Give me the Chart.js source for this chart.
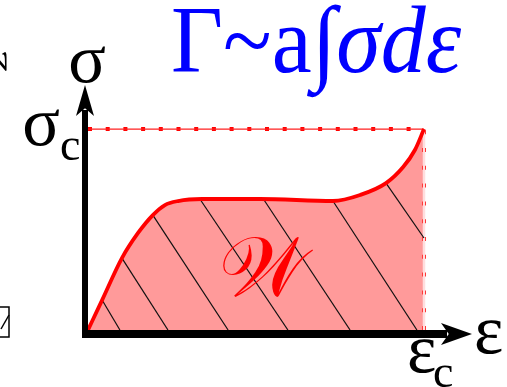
<!DOCTYPE html>
<html>
<head>
<meta charset="utf-8">
<script src="https://cdn.jsdelivr.net/npm/chart.js@4"></script>
<style>
  html, body { margin: 0; padding: 0; background: #fff; }
  canvas { display: block; }
</style>
</head>
<body>
<canvas id="graph" width="507" height="387"></canvas>
<script>
// strain (as fraction of eps_c) and stress (as fraction of sigma_c) along the curve
const strain = [0, 0.042, 0.101, 0.149, 0.193, 0.229, 0.268, 0.339, 0.512, 0.729, 0.810, 0.887, 0.938, 0.973, 1.0];
const stress = [0, 0.149, 0.358, 0.483, 0.572, 0.622, 0.642, 0.652, 0.652, 0.642, 0.672, 0.731, 0.811, 0.896, 1.0];

// hatch lines under the curve
const hatchStartX = [0.042, 0.101, 0.193, 0.333, 0.524, 0.729, 0.887];
const hatchStartY = [0.149, 0.358, 0.572, 0.652, 0.647, 0.642, 0.731];
const hatchEndX = [0.095, 0.238, 0.417, 0.595, 0.780, 0.979, 1.0];
const hatchEndY = [0, 0, 0, 0, 0, 0, 0.458];

// critical point
const critStrain = 1.0;
const critStress = 1.0;

// axis labels
const yLabel = 'σ';
const xLabel = 'ε';
const yTick = ['σ', 'c'];
const xTick = ['ε', 'c'];
const areaLabel = '𝒲';
const titleParts = [
  { text: 'Γ~a', italic: false },
  { text: '∫', italic: true },
  { text: 'σdε', italic: true }
];

const datasets = [];

datasets.push({
  data: strain.map((x, i) => ({ x: x, y: stress[i] })),
  showLine: true,
  borderColor: '#ff0000',
  borderWidth: 3.8,
  backgroundColor: '#ff9a9a',
  fill: 'origin',
  pointRadius: 0,
  cubicInterpolationMode: 'monotone'
});

hatchStartX.forEach((x, i) => {
  datasets.push({
    data: [{ x: x, y: hatchStartY[i] }, { x: hatchEndX[i], y: hatchEndY[i] }],
    showLine: true,
    borderColor: '#111',
    borderWidth: 1.2,
    pointRadius: 0,
    fill: false
  });
});

// dotted guides at sigma_c and eps_c
datasets.push({
  data: [{ x: 0, y: critStress }, { x: critStrain, y: critStress }],
  showLine: true, borderColor: '#ff2020', borderWidth: 1.2, pointRadius: 0, fill: false
});
datasets.push({
  data: [{ x: 0, y: critStress }, { x: critStrain, y: critStress }],
  showLine: true, borderColor: '#ff0000', borderWidth: 4, borderDash: [4, 13.7],
  borderCapStyle: 'butt', pointRadius: 0, fill: false
});
datasets.push({
  data: [{ x: critStrain, y: 0 }, { x: critStrain, y: critStress }],
  showLine: true, borderColor: '#ffdede', borderWidth: 2.5, pointRadius: 0, fill: false
});
datasets.push({
  data: [{ x: critStrain, y: 0 }, { x: critStrain, y: critStress }],
  showLine: true, borderColor: '#ff0000', borderWidth: 4, borderDash: [4, 13.8],
  borderCapStyle: 'butt', pointRadius: 0, fill: false
});

function arrowHead(ctx, tipX, tipY, dirX, dirY, len, half) {
  const nx = -dirY, ny = dirX;
  const bx = tipX - dirX * len, by = tipY - dirY * len;
  ctx.beginPath();
  ctx.moveTo(tipX, tipY);
  ctx.lineTo(bx + nx * half, by + ny * half);
  ctx.lineTo(tipX - dirX * len * 0.75, tipY - dirY * len * 0.75);
  ctx.lineTo(bx - nx * half, by - ny * half);
  ctx.closePath();
  ctx.fill();
}

const decorations = {
  id: 'decorations',
  afterDraw(chart) {
    const ctx = chart.ctx;
    const xs = chart.scales.x, ys = chart.scales.y;
    const area = chart.chartArea;
    const x0 = xs.getPixelForValue(0), y0 = ys.getPixelForValue(0);
    const xc = xs.getPixelForValue(critStrain), yc = ys.getPixelForValue(critStress);

    ctx.save();
    ctx.fillStyle = '#000';
    // axes
    ctx.fillRect(x0 - 6, area.top + 25, 6, y0 + 8 - area.top - 25);
    ctx.fillRect(x0 - 6, y0, area.right - 25 - x0 + 6, 8);
    arrowHead(ctx, x0 - 3, area.top, 0, -1, 31, 9);
    arrowHead(ctx, area.right, y0 + 4, 1, 0, 31, 11);

    // axis labels
    ctx.font = '70px "Liberation Serif"';
    ctx.textBaseline = 'alphabetic';
    ctx.textAlign = 'center';
    ctx.fillText(yLabel, x0 - 1, area.top - 3);
    ctx.textAlign = 'left';
    ctx.fillText(xLabel, area.right + 2, y0 + 23);

    ctx.textAlign = 'right';
    ctx.fillText(yTick[0], x0 - 28, yc + 16);
    ctx.textAlign = 'left';
    ctx.fillText(xTick[0], xc - 17, y0 + 42);
    ctx.font = '46px "Liberation Serif"';
    ctx.fillText(yTick[1], x0 - 28, yc + 31);
    ctx.fillText(xTick[1], xc + 9, y0 + 57);

    // area label
    ctx.fillStyle = '#ff0000';
    ctx.font = '84px "DejaVu Serif"';
    ctx.textAlign = 'center';
    ctx.fillText(areaLabel, xs.getPixelForValue(0.52), ys.getPixelForValue(0.17));

    // title
    ctx.fillStyle = '#0000ff';
    ctx.translate(171, 72);
    ctx.scale(1, 1.05);
    let tx = 0;
    ctx.textAlign = 'left';
    titleParts.forEach(p => {
      ctx.font = (p.italic ? 'italic ' : '') + '90px "Liberation Serif"';
      ctx.fillText(p.text, tx, 0);
      tx += ctx.measureText(p.text).width;
    });
    ctx.restore();

    // cropped bits of the neighbouring figure
    ctx.save();
    ctx.strokeStyle = '#000';
    ctx.lineWidth = 1.5;
    ctx.strokeRect(-2, 307, 11, 30);
    ctx.beginPath();
    ctx.moveTo(1, 329);
    ctx.lineTo(9, 315);
    ctx.stroke();
    ctx.translate(3, 72);
    ctx.rotate(-0.5);
    ctx.fillStyle = '#000';
    ctx.font = 'italic 36px "Liberation Serif"';
    ctx.textAlign = 'center';
    ctx.fillText('w', 0, 0);
    ctx.restore();
  }
};

new Chart(document.getElementById('graph'), {
  type: 'scatter',
  data: { datasets: datasets },
  options: {
    responsive: false,
    animation: false,
    devicePixelRatio: 1,
    layout: { padding: { left: 88, right: 35, top: 85, bottom: 57 } },
    scales: {
      x: { type: 'linear', display: false, min: 0, max: 1.1429 },
      y: { type: 'linear', display: false, min: 0, max: 1.2195 }
    },
    plugins: {
      legend: { display: false },
      tooltip: { enabled: false },
      filler: { drawTime: 'beforeDatasetsDraw' }
    }
  },
  plugins: [decorations]
});
</script>
</body>
</html>
